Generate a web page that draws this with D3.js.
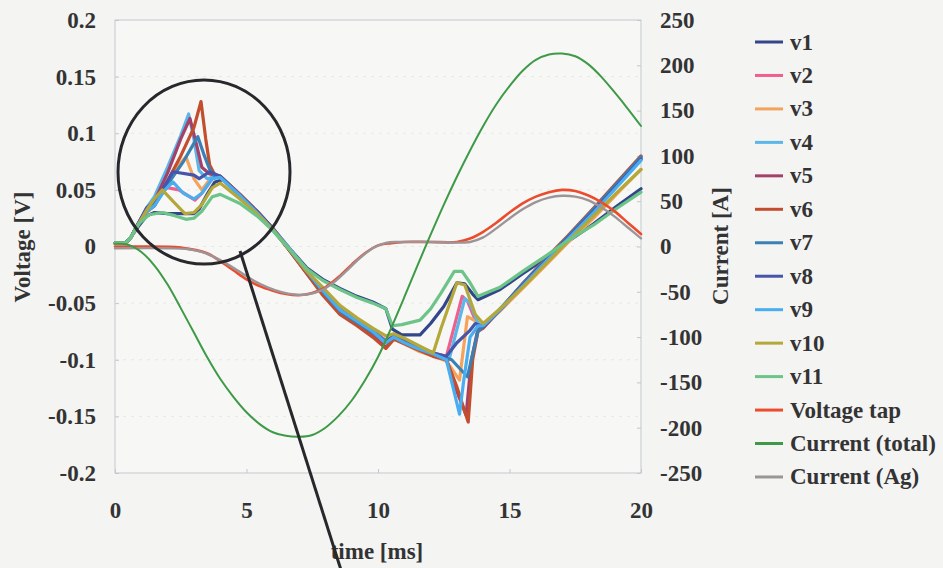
<!DOCTYPE html>
<html><head><meta charset="utf-8">
<script src="https://cdn.jsdelivr.net/npm/d3@7"></script>
<style>
html,body{margin:0;padding:0;background:#f4f4f3;}
svg{display:block;}
text{font-family:"Liberation Serif","Times New Roman",serif;font-weight:bold;fill:#333;}
</style></head><body>
<svg id="chart" width="943" height="568"></svg>
<script>
// ---- axis ticks ----
const timeTicks = [0, 5, 10, 15, 20];
const voltTicks = [0.2, 0.15, 0.1, 0.05, 0, -0.05, -0.1, -0.15, -0.2];
const voltTickLabels = ["0.2", "0.15", "0.1", "0.05", "0", "-0.05", "-0.1", "-0.15", "-0.2"];
const currentTicks = [250, 200, 150, 100, 50, 0, -50, -100, -150, -200, -250];

// ---- legend ----
const seriesNames = ["v1","v2","v3","v4","v5","v6","v7","v8","v9","v10","v11","Voltage tap","Current (total)","Current (Ag)"];
const seriesColors = ["#34468a","#f0608e","#f4a35c","#5cb6e8","#a2416a","#c24e2e","#3a80b4","#4654aa","#48aef0","#b4a83a","#6cc488","#ec4c2e","#3e9a46","#9c9496"];

// ---- voltage signals [t ms, V] ----
const v1 = [[0,0.003],[0.4,0.003],[0.6,0.008],[0.9,0.018],[1.2,0.027],[1.5,0.030],[2.0,0.029],[2.5,0.029],[3.0,0.029],[3.2,0.033],[3.5,0.046],[3.8,0.057],[4.1,0.059],[4.75,0.045],[5.4,0.031],[6.0,0.016],[6.65,-0.002],[7.3,-0.019],[7.9,-0.029],[8.55,-0.037],[9.2,-0.044],[9.8,-0.049],[10.3,-0.055],[10.55,-0.073],[10.9,-0.078],[11.6,-0.078],[12.0,-0.068],[12.5,-0.053],[13.0,-0.032],[13.3,-0.033],[13.6,-0.042],[13.8,-0.047],[14.64,-0.038],[15.5,-0.024],[16.4,-0.010],[17.2,0.004],[18.2,0.020],[19.1,0.036],[20,0.051]];
const v2 = [[0,0.003],[0.4,0.003],[0.6,0.008],[0.9,0.021],[1.2,0.033],[1.5,0.041],[1.98,0.052],[2.43,0.050],[3.04,0.041],[3.3,0.047],[3.7,0.060],[4.0,0.062],[4.75,0.045],[5.4,0.031],[6.0,0.016],[6.65,-0.003],[7.3,-0.022],[7.9,-0.038],[8.55,-0.055],[9.2,-0.065],[9.8,-0.074],[10.3,-0.083],[10.6,-0.079],[11.0,-0.083],[11.5,-0.088],[12.1,-0.094],[12.6,-0.097],[13.2,-0.044],[13.4,-0.048],[13.7,-0.065],[14.0,-0.071],[14.64,-0.056],[15.5,-0.034],[16.4,-0.012],[17.2,0.007],[18.2,0.031],[19.1,0.054],[20,0.077]];
const v3 = [[0,0.003],[0.4,0.003],[0.6,0.008],[0.9,0.020],[1.2,0.030],[1.5,0.036],[2.0,0.056],[2.5,0.074],[2.7,0.079],[3.0,0.060],[3.3,0.050],[3.7,0.062],[4.0,0.061],[4.75,0.044],[5.4,0.030],[6.0,0.015],[6.65,-0.004],[7.3,-0.023],[7.9,-0.040],[8.55,-0.057],[9.2,-0.067],[9.8,-0.075],[10.3,-0.084],[10.6,-0.081],[11.0,-0.086],[11.5,-0.092],[12.1,-0.097],[12.6,-0.101],[13.1,-0.118],[13.4,-0.062],[13.8,-0.067],[14.0,-0.070],[14.64,-0.057],[15.5,-0.037],[16.4,-0.016],[17.2,0.003],[18.2,0.025],[19.1,0.047],[20,0.068]];
const v4 = [[0,0.003],[0.4,0.003],[0.6,0.008],[0.9,0.021],[1.2,0.034],[1.5,0.044],[2.0,0.070],[2.5,0.098],[2.8,0.117],[3.0,0.095],[3.2,0.067],[3.5,0.060],[3.8,0.061],[4.0,0.062],[4.75,0.046],[5.4,0.031],[6.0,0.016],[6.65,-0.002],[7.3,-0.021],[7.9,-0.039],[8.55,-0.056],[9.2,-0.066],[9.8,-0.075],[10.3,-0.084],[10.6,-0.080],[11.0,-0.084],[11.5,-0.089],[12.1,-0.095],[12.7,-0.100],[13.3,-0.046],[13.5,-0.050],[13.8,-0.068],[14.0,-0.071],[14.64,-0.056],[15.5,-0.034],[16.4,-0.012],[17.2,0.007],[18.2,0.032],[19.1,0.055],[20,0.078]];
const v5 = [[0,0.003],[0.4,0.003],[0.6,0.008],[0.9,0.021],[1.2,0.033],[1.5,0.040],[2.0,0.065],[2.5,0.095],[2.85,0.113],[3.1,0.090],[3.3,0.070],[3.6,0.064],[4.0,0.062],[4.75,0.046],[5.4,0.031],[6.0,0.016],[6.65,-0.004],[7.3,-0.024],[7.9,-0.042],[8.55,-0.059],[9.2,-0.069],[9.8,-0.079],[10.3,-0.089],[10.6,-0.081],[11.0,-0.085],[11.5,-0.090],[12.1,-0.096],[12.6,-0.100],[13.0,-0.128],[13.35,-0.149],[13.55,-0.100],[13.8,-0.073],[14.0,-0.071],[14.64,-0.056],[15.5,-0.033],[16.4,-0.011],[17.2,0.008],[18.2,0.033],[19.1,0.056],[20,0.079]];
const v6 = [[0,0.003],[0.4,0.003],[0.6,0.008],[0.9,0.020],[1.2,0.031],[1.5,0.036],[2.0,0.058],[2.5,0.080],[3.0,0.105],[3.27,0.128],[3.45,0.095],[3.6,0.072],[3.8,0.063],[4.0,0.062],[4.75,0.046],[5.4,0.031],[6.0,0.015],[6.65,-0.004],[7.3,-0.024],[7.9,-0.043],[8.55,-0.060],[9.2,-0.070],[9.8,-0.080],[10.3,-0.090],[10.6,-0.082],[11.0,-0.086],[11.5,-0.091],[12.1,-0.097],[12.6,-0.100],[13.0,-0.124],[13.43,-0.155],[13.6,-0.100],[13.8,-0.075],[14.0,-0.072],[14.64,-0.056],[15.5,-0.033],[16.4,-0.010],[17.2,0.009],[18.2,0.034],[19.1,0.057],[20,0.080]];
const v7 = [[0,0.003],[0.4,0.003],[0.6,0.008],[0.9,0.020],[1.2,0.031],[1.5,0.036],[2.0,0.055],[2.6,0.075],[3.15,0.097],[3.4,0.080],[3.6,0.068],[3.8,0.062],[4.0,0.062],[4.75,0.045],[5.4,0.030],[6.0,0.015],[6.65,-0.003],[7.3,-0.022],[7.9,-0.040],[8.55,-0.057],[9.2,-0.067],[9.8,-0.076],[10.3,-0.085],[10.6,-0.080],[11.0,-0.084],[11.5,-0.089],[12.1,-0.094],[12.8,-0.100],[13.4,-0.115],[13.8,-0.075],[14.0,-0.071],[14.64,-0.055],[15.5,-0.033],[16.4,-0.011],[17.2,0.008],[18.2,0.033],[19.1,0.056],[20,0.079]];
const v8 = [[0,0.003],[0.4,0.003],[0.6,0.008],[0.9,0.021],[1.2,0.034],[1.5,0.040],[1.8,0.050],[2.2,0.066],[3.0,0.063],[3.2,0.060],[3.6,0.066],[4.0,0.062],[4.75,0.045],[5.4,0.031],[6.0,0.016],[6.65,-0.003],[7.3,-0.022],[7.9,-0.039],[8.55,-0.056],[9.2,-0.066],[9.8,-0.075],[10.3,-0.084],[10.6,-0.079],[11.0,-0.083],[11.5,-0.088],[12.1,-0.094],[12.6,-0.097],[13.0,-0.085],[13.5,-0.074],[13.7,-0.068],[14.0,-0.071],[14.64,-0.056],[15.5,-0.034],[16.4,-0.012],[17.2,0.007],[18.2,0.031],[19.1,0.054],[20,0.077]];
const v9 = [[0,0.003],[0.4,0.003],[0.6,0.008],[0.9,0.020],[1.2,0.031],[1.5,0.036],[1.9,0.050],[2.2,0.057],[2.6,0.047],[3.0,0.042],[3.3,0.047],[3.7,0.060],[4.0,0.061],[4.75,0.045],[5.4,0.030],[6.0,0.015],[6.65,-0.003],[7.3,-0.022],[7.9,-0.039],[8.55,-0.056],[9.2,-0.066],[9.8,-0.075],[10.3,-0.085],[10.6,-0.080],[11.0,-0.085],[11.5,-0.090],[12.1,-0.095],[12.6,-0.100],[13.1,-0.148],[13.25,-0.120],[13.5,-0.080],[13.8,-0.070],[14.0,-0.070],[14.64,-0.056],[15.5,-0.035],[16.4,-0.013],[17.2,0.006],[18.2,0.030],[19.1,0.053],[20,0.076]];
const v10 = [[0,0.003],[0.4,0.003],[0.6,0.008],[0.9,0.020],[1.2,0.032],[1.5,0.042],[1.8,0.050],[2.2,0.040],[2.66,0.029],[3.0,0.030],[3.3,0.037],[3.7,0.052],[4.0,0.056],[4.75,0.042],[5.4,0.029],[6.0,0.015],[6.65,-0.003],[7.3,-0.022],[7.9,-0.036],[8.55,-0.052],[9.2,-0.063],[9.8,-0.072],[10.3,-0.079],[10.6,-0.077],[11.0,-0.081],[11.5,-0.087],[12.1,-0.094],[12.4,-0.072],[13.0,-0.032],[13.3,-0.034],[13.7,-0.060],[14.0,-0.068],[14.64,-0.055],[15.5,-0.036],[16.4,-0.015],[17.2,0.004],[18.2,0.027],[19.1,0.048],[20,0.068]];
const v11 = [[0,0.003],[0.4,0.003],[0.6,0.008],[0.9,0.020],[1.3,0.028],[1.8,0.030],[2.3,0.027],[2.7,0.024],[3.0,0.025],[3.3,0.031],[3.7,0.044],[4.0,0.046],[4.75,0.038],[5.4,0.027],[6.0,0.014],[6.65,-0.003],[7.3,-0.020],[7.9,-0.030],[8.55,-0.038],[9.2,-0.045],[9.8,-0.050],[10.3,-0.055],[10.55,-0.070],[10.9,-0.069],[11.6,-0.065],[12.0,-0.055],[12.4,-0.041],[12.9,-0.022],[13.2,-0.022],[13.5,-0.032],[13.8,-0.044],[14.64,-0.036],[15.5,-0.022],[16.4,-0.008],[17.2,0.005],[18.2,0.019],[19.1,0.034],[20,0.048]];
const voltageTap = [[0,0.0],[1,0.0],[2.5,-0.001],[3.5,-0.006],[4.0,-0.013],[4.5,-0.021],[5.0,-0.029],[5.5,-0.035],[6.0,-0.039],[6.5,-0.042],[7.0,-0.043],[7.5,-0.041],[8.0,-0.036],[8.5,-0.027],[9.0,-0.016],[9.5,-0.006],[10.0,0.001],[10.5,0.003],[11,0.004],[12,0.004],[13,0.004],[13.5,0.007],[14,0.013],[14.5,0.021],[15,0.030],[15.5,0.038],[16,0.044],[16.5,0.048],[17,0.050],[17.5,0.049],[18,0.045],[18.5,0.039],[19,0.031],[19.5,0.021],[20,0.011]];

// ---- currents [t ms, A] ----
const currentTotal = [[0,3],[0.5,2],[1,-6],[1.5,-21],[2,-42],[2.5,-68],[3,-95],[3.5,-122],[4,-146],[4.5,-166],[5,-183],[5.5,-196],[6,-205],[6.5,-209],[7,-210],[7.5,-208],[8,-200],[8.5,-187],[9,-170],[9.5,-148],[10,-122],[10.5,-90],[11,-56],[11.5,-21],[12,13],[12.5,46],[13,77],[13.5,106],[14,133],[14.5,157],[15,177],[15.5,194],[16,206],[16.5,212],[17,213],[17.5,210],[18,201],[18.5,187],[19,170],[19.5,152],[20,133]];
const currentAg = [[0,-2],[2,-2],[2.8,-3],[3.3,-6],[3.8,-12],[4.3,-20],[4.8,-29],[5.3,-38],[5.8,-45],[6.3,-50],[6.8,-53],[7.3,-53],[7.8,-49],[8.3,-40],[8.8,-27],[9.3,-13],[9.8,-2],[10.3,4],[10.8,5],[12,5],[13.5,5],[14,10],[14.5,20],[15,31],[15.5,41],[16,49],[16.5,54],[17,56],[17.5,55],[18,51],[18.5,43],[19,33],[19.5,21],[20,9]];

const voltSeries = [v1, v2, v3, v4, v5, v6, v7, v8, v9, v10, v11];

// ---- layout ----
const svg = d3.select("#chart");
const plot = {left: 115, right: 641, top: 20, bottom: 473};
const x = d3.scaleLinear().domain([0, 20]).range([plot.left, plot.right]);
const yV = d3.scaleLinear().domain([-0.2, 0.2]).range([plot.bottom, plot.top]);
const yI = d3.scaleLinear().domain([-250, 250]).range([plot.bottom, plot.top]);

// plot area
svg.append("rect").attr("x", plot.left).attr("y", plot.top)
  .attr("width", plot.right - plot.left).attr("height", plot.bottom - plot.top)
  .attr("fill", "#f7f7f6").attr("stroke", "#c3c8cc").attr("stroke-width", 1);

// faint horizontal grid
svg.append("g").selectAll("line").data(voltTicks.slice(1, -1)).join("line")
  .attr("x1", plot.left).attr("x2", plot.right)
  .attr("y1", d => yV(d)).attr("y2", d => yV(d))
  .attr("stroke", "#e6e8e8").attr("stroke-dasharray", "3,5");

// axes
const styleAxis = g => {
  g.select(".domain").remove();
  g.selectAll(".tick line").attr("stroke", "#c3c8cc");
  g.selectAll(".tick text").style("font-size", "23px").attr("fill", "#333");
};
svg.append("g").attr("transform", `translate(${plot.left},0)`)
  .call(d3.axisLeft(yV).tickValues(voltTicks).tickFormat((d, i) => voltTickLabels[i]).tickSizeInner(-4).tickSizeOuter(0).tickPadding(19))
  .call(styleAxis);
svg.append("g").attr("transform", `translate(${plot.right},0)`)
  .call(d3.axisRight(yI).tickValues(currentTicks).tickFormat(d => String(d)).tickSizeInner(-4).tickSizeOuter(0).tickPadding(19))
  .call(styleAxis);
svg.append("g").attr("transform", `translate(0,${plot.bottom})`)
  .call(d3.axisBottom(x).tickValues(timeTicks).tickFormat(d => String(d)).tickSizeInner(-4).tickSizeOuter(0).tickPadding(29))
  .call(styleAxis);

// axis titles
svg.append("text").attr("transform", "translate(22,247) rotate(-90)")
  .attr("text-anchor", "middle").attr("dominant-baseline", "central")
  .style("font-size", "23px").text("Voltage [V]");
svg.append("text").attr("transform", "translate(720,246) rotate(-90)")
  .attr("text-anchor", "middle").attr("dominant-baseline", "central")
  .style("font-size", "23px").text("Current [A]");
svg.append("text").attr("x", 377).attr("y", 559)
  .attr("text-anchor", "middle").style("font-size", "23px").text("time [ms]");

// series lines
const lineV = d3.line().x(d => x(d[0])).y(d => yV(d[1]));
const lineVs = d3.line().x(d => x(d[0])).y(d => yV(d[1])).curve(d3.curveCatmullRom);
const lineI = d3.line().x(d => x(d[0])).y(d => yI(d[1])).curve(d3.curveCatmullRom);

const lines = svg.append("g").attr("fill", "none").attr("stroke-linejoin", "round").attr("stroke-linecap", "round");
voltSeries.forEach((s, i) => {
  lines.append("path").datum(s).attr("d", lineV)
    .attr("stroke", seriesColors[i]).attr("stroke-width", 3.2);
});
lines.append("path").datum(voltageTap).attr("d", lineVs)
  .attr("stroke", seriesColors[11]).attr("stroke-width", 2.6);
lines.append("path").datum(currentAg).attr("d", lineI)
  .attr("stroke", seriesColors[13]).attr("stroke-width", 2.4);
lines.append("path").datum(currentTotal).attr("d", lineI)
  .attr("stroke", seriesColors[12]).attr("stroke-width", 2);

// highlight ring with pointer
svg.append("ellipse").attr("cx", 204).attr("cy", 172).attr("rx", 86).attr("ry", 92)
  .attr("fill", "none").attr("stroke", "#26282c").attr("stroke-width", 3);
svg.append("line").attr("x1", 240).attr("y1", 251).attr("x2", 341).attr("y2", 570)
  .attr("stroke", "#26282c").attr("stroke-width", 3);

// legend
const legend = svg.append("g").selectAll("g").data(seriesNames).join("g")
  .attr("transform", (d, i) => `translate(755,${42 + i * 33.46})`);
legend.append("line").attr("x1", 0).attr("x2", 28).attr("y1", 0).attr("y2", 0)
  .attr("stroke", (d, i) => seriesColors[i]).attr("stroke-width", 3);
legend.append("text").attr("x", 35).attr("y", 0).attr("dominant-baseline", "central")
  .style("font-size", "23px").text(d => d);
</script>
</body></html>
